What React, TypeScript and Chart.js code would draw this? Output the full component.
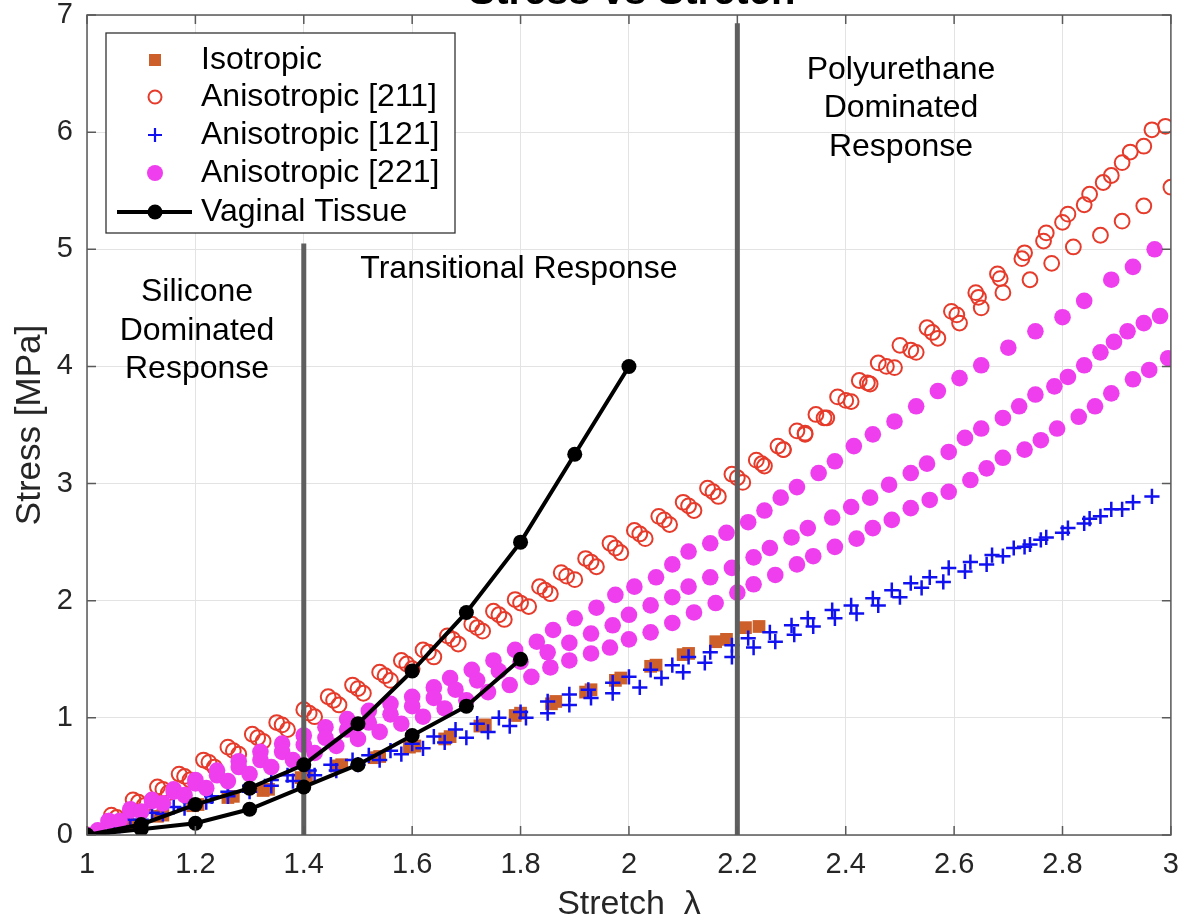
import React, { useEffect, useRef } from 'react';
import { Chart, registerables } from 'chart.js';

Chart.register(...registerables);

const FONT = '"Liberation Sans", Arial, Helvetica, sans-serif';

// ---------- data ----------
const X_TICK_STEP = 0.2;
const Y_TICK_STEP = 1;
const X_RANGE = [1, 3];
const Y_RANGE = [0, 7];

const isotropicRunA = [[1.0,0.0],[1.065,0.08],[1.13,0.16],[1.195,0.25],[1.26,0.32],[1.325,0.38],[1.395,0.49],[1.46,0.59],[1.53,0.66],[1.595,0.75],[1.66,0.82],[1.725,0.93],[1.79,1.02],[1.857,1.12],[1.92,1.22],[1.975,1.32],[2.04,1.44],[2.10,1.54],[2.16,1.65],[2.215,1.77]];
const isotropicRunB = [[1.075,0.09],[1.14,0.17],[1.205,0.26],[1.27,0.33],[1.335,0.39],[1.405,0.50],[1.47,0.60],[1.54,0.67],[1.605,0.76],[1.67,0.84],[1.735,0.94],[1.80,1.04],[1.865,1.14],[1.93,1.24],[1.985,1.34],[2.05,1.45],[2.11,1.55],[2.18,1.67],[2.24,1.78]];

const aniso211RunA = [[1.0,0.0],[1.045,0.17],[1.085,0.30],[1.13,0.41],[1.17,0.52],[1.215,0.64],[1.26,0.75],[1.305,0.86],[1.35,0.96],[1.40,1.07],[1.445,1.18],[1.49,1.28],[1.54,1.39],[1.58,1.49],[1.62,1.58],[1.665,1.70],[1.71,1.80],[1.75,1.91],[1.79,2.01],[1.835,2.12],[1.875,2.24],[1.92,2.36],[1.965,2.49],[2.01,2.60],[2.055,2.72],[2.10,2.84],[2.145,2.96],[2.19,3.08],[2.235,3.20],[2.275,3.32],[2.31,3.45],[2.345,3.59],[2.385,3.74],[2.425,3.88],[2.46,4.03],[2.50,4.18],[2.55,4.33],[2.595,4.47],[2.64,4.63],[2.68,4.79],[2.73,4.97],[2.77,5.14],[2.81,5.30],[2.85,5.47],[2.89,5.63],[2.925,5.83],[2.965,6.02]];
const aniso211RunB = [[1.055,0.15],[1.095,0.28],[1.14,0.39],[1.18,0.50],[1.225,0.62],[1.27,0.72],[1.315,0.83],[1.36,0.94],[1.41,1.04],[1.455,1.15],[1.50,1.25],[1.55,1.36],[1.59,1.46],[1.63,1.56],[1.675,1.67],[1.72,1.77],[1.76,1.88],[1.80,1.98],[1.845,2.09],[1.885,2.21],[1.93,2.33],[1.975,2.45],[2.02,2.57],[2.065,2.69],[2.11,2.81],[2.155,2.93],[2.20,3.05],[2.245,3.17],[2.285,3.29],[2.325,3.43],[2.36,3.56],[2.40,3.71],[2.44,3.86],[2.475,4.00],[2.52,4.14],[2.56,4.29],[2.605,4.44],[2.645,4.59],[2.685,4.75],[2.725,4.92],[2.765,5.07],[2.80,5.23],[2.84,5.38],[2.875,5.57],[2.91,5.74],[2.95,5.88],[2.99,6.05]];
const aniso211RunC = [[1.065,0.12],[1.105,0.25],[1.15,0.36],[1.19,0.47],[1.235,0.58],[1.28,0.69],[1.325,0.80],[1.37,0.90],[1.42,1.01],[1.465,1.11],[1.51,1.21],[1.56,1.32],[1.60,1.42],[1.64,1.52],[1.685,1.63],[1.73,1.74],[1.77,1.84],[1.815,1.95],[1.855,2.06],[1.90,2.18],[1.94,2.29],[1.985,2.41],[2.03,2.53],[2.075,2.65],[2.12,2.77],[2.165,2.89],[2.21,3.01],[2.25,3.15],[2.285,3.29],[2.325,3.42],[2.365,3.56],[2.41,3.70],[2.445,3.85],[2.49,3.99],[2.53,4.12],[2.57,4.24],[2.61,4.37],[2.65,4.50],[2.69,4.63],[2.74,4.74],[2.78,4.88],[2.82,5.02],[2.87,5.12],[2.91,5.24],[2.95,5.37],[3.0,5.53]];

const aniso121RunA = [[1.0,0.0],[1.04,0.07],[1.08,0.13],[1.12,0.19],[1.16,0.24],[1.19,0.28],[1.23,0.33],[1.26,0.37],[1.30,0.42],[1.34,0.47],[1.37,0.51],[1.41,0.55],[1.45,0.60],[1.49,0.64],[1.52,0.68],[1.56,0.72],[1.60,0.78],[1.64,0.84],[1.68,0.90],[1.72,0.95],[1.76,1.00],[1.80,1.05],[1.85,1.14],[1.89,1.20],[1.925,1.24],[1.97,1.30],[2.00,1.35],[2.04,1.41],[2.08,1.45],[2.11,1.52],[2.15,1.56],[2.19,1.62],[2.22,1.68],[2.26,1.73],[2.30,1.79],[2.33,1.85],[2.375,1.92],[2.41,1.96],[2.45,2.02],[2.485,2.09],[2.52,2.15],[2.555,2.20],[2.59,2.28],[2.63,2.33],[2.67,2.39],[2.71,2.45],[2.74,2.48],[2.77,2.54],[2.81,2.62],[2.85,2.70],[2.89,2.78],[2.93,2.84],[2.965,2.89]];
const aniso121RunB = [[1.06,0.08],[1.10,0.13],[1.14,0.18],[1.18,0.23],[1.22,0.28],[1.26,0.33],[1.30,0.37],[1.34,0.42],[1.38,0.46],[1.42,0.51],[1.46,0.55],[1.50,0.60],[1.54,0.64],[1.58,0.69],[1.62,0.74],[1.66,0.79],[1.70,0.83],[1.74,0.88],[1.78,0.93],[1.81,1.00],[1.85,1.04],[1.89,1.11],[1.93,1.17],[1.97,1.21],[2.02,1.26],[2.06,1.34],[2.10,1.39],[2.14,1.47],[2.19,1.52],[2.23,1.60],[2.27,1.65],[2.305,1.71],[2.34,1.78],[2.38,1.85],[2.42,1.89],[2.46,1.96],[2.50,2.03],[2.54,2.11],[2.58,2.16],[2.62,2.25],[2.66,2.31],[2.69,2.38],[2.73,2.46],[2.76,2.52],[2.80,2.58],[2.84,2.66],[2.87,2.72],[2.91,2.78]];

const aniso221RunA = [[1.0,0.0],[1.04,0.12],[1.08,0.22],[1.12,0.30],[1.16,0.39],[1.20,0.47],[1.24,0.55],[1.28,0.63],[1.32,0.71],[1.36,0.78],[1.40,0.85],[1.44,0.92],[1.48,0.99],[1.52,1.06],[1.56,1.12],[1.60,1.18],[1.64,1.26],[1.67,1.34],[1.71,1.41],[1.75,1.49],[1.79,1.58],[1.83,1.65],[1.86,1.75],[1.90,1.85],[1.94,1.94],[1.975,2.05],[2.01,2.12],[2.05,2.20],[2.08,2.31],[2.11,2.42],[2.15,2.49],[2.18,2.58],[2.22,2.67],[2.25,2.77],[2.28,2.88],[2.31,2.97],[2.35,3.09],[2.38,3.19],[2.415,3.32],[2.45,3.42],[2.49,3.53],[2.53,3.66],[2.57,3.79],[2.61,3.90],[2.65,4.01],[2.70,4.16],[2.75,4.30],[2.80,4.42],[2.84,4.56],[2.89,4.74],[2.93,4.85],[2.97,5.0]];
const aniso221RunB = [[1.04,0.12],[1.08,0.21],[1.12,0.29],[1.16,0.37],[1.20,0.44],[1.24,0.51],[1.28,0.58],[1.32,0.64],[1.36,0.71],[1.40,0.77],[1.44,0.83],[1.48,0.90],[1.52,0.96],[1.56,1.03],[1.60,1.10],[1.64,1.17],[1.68,1.24],[1.72,1.32],[1.76,1.40],[1.80,1.48],[1.85,1.56],[1.89,1.64],[1.93,1.72],[1.97,1.79],[2.00,1.88],[2.04,1.96],[2.08,2.03],[2.11,2.12],[2.15,2.20],[2.19,2.28],[2.23,2.37],[2.26,2.45],[2.30,2.54],[2.33,2.62],[2.375,2.71],[2.41,2.80],[2.445,2.88],[2.48,2.99],[2.52,3.09],[2.55,3.17],[2.59,3.27],[2.62,3.39],[2.65,3.47],[2.69,3.56],[2.72,3.66],[2.75,3.76],[2.785,3.83],[2.81,3.91],[2.84,4.01],[2.87,4.12],[2.895,4.21],[2.92,4.30],[2.95,4.37],[2.98,4.43]];
const aniso221RunC = [[1.02,0.04],[1.06,0.12],[1.10,0.20],[1.14,0.27],[1.18,0.34],[1.22,0.40],[1.26,0.46],[1.30,0.52],[1.34,0.58],[1.38,0.64],[1.42,0.70],[1.46,0.76],[1.50,0.82],[1.54,0.88],[1.58,0.95],[1.62,1.01],[1.66,1.08],[1.70,1.15],[1.74,1.22],[1.78,1.28],[1.82,1.35],[1.855,1.43],[1.89,1.49],[1.93,1.55],[1.965,1.60],[2.00,1.67],[2.04,1.73],[2.08,1.81],[2.12,1.90],[2.16,1.98],[2.20,2.07],[2.23,2.14],[2.27,2.22],[2.31,2.31],[2.34,2.38],[2.38,2.46],[2.42,2.53],[2.45,2.62],[2.485,2.69],[2.52,2.79],[2.555,2.86],[2.59,2.93],[2.63,3.03],[2.66,3.13],[2.69,3.22],[2.73,3.29],[2.76,3.37],[2.79,3.47],[2.83,3.57],[2.86,3.66],[2.89,3.77],[2.93,3.89],[2.96,3.97],[2.995,4.07]];

const vaginalStretchA = [1.0, 1.1, 1.2, 1.3, 1.4, 1.5, 1.6, 1.7, 1.8, 1.9, 2.0];
const vaginalStressA = [0.0, 0.09, 0.26, 0.40, 0.60, 0.95, 1.40, 1.90, 2.50, 3.25, 4.00];
const vaginalStretchB = [1.0, 1.1, 1.2, 1.3, 1.4, 1.5, 1.6, 1.7, 1.8];
const vaginalStressB = [0.0, 0.05, 0.10, 0.22, 0.41, 0.60, 0.85, 1.10, 1.50];

const regionBoundaryX = [1.4, 2.2];
const regionBoundaryTop = [5.05, 6.93];

const annotationLines = [['Silicone', 'Dominated', 'Response'], ['Transitional Response'], ['Polyurethane', 'Dominated', 'Response']];
const annotationX = [1.203, 1.797, 2.502];
const annotationY = [4.63, 4.83, 6.53];

const legendLabels = ['Isotropic', 'Anisotropic [211]', 'Anisotropic [121]', 'Anisotropic [221]', 'Vaginal Tissue'];

// ---------- styles ----------
const C_ISO = '#CD5F2B';
const C_211 = '#E63A2A';
const C_121 = '#1010F0';
const C_221 = '#EE3EEE';
const C_VAG = '#000000';
const C_BOUND = '#5F5F5F';
const C_GRID = '#E3E3E3';
const C_AXIS = '#5A5A5A';
const C_TEXT = '#262626';

const pts = (...runs: number[][][]) => runs.flat().map(([x, y]) => ({ x, y }));
const zipPts = (xs: number[], ys: number[]) => xs.map((x, i) => ({ x, y: ys[i] }));

const fmt = (v: number) => String(Number(v.toFixed(1)));

const decorPlugin = {
  id: 'decor',
  afterDatasetsDraw(chart: any) {
    const { ctx, chartArea: a, scales } = chart;
    const xs = scales.x;
    const ys = scales.y;
    ctx.save();
    // axes box
    ctx.strokeStyle = C_AXIS;
    ctx.lineWidth = 1.5;
    ctx.strokeRect(a.left, a.top, a.right - a.left, a.bottom - a.top);
    // inward ticks
    const TL = 9;
    ctx.beginPath();
    xs.ticks.forEach((t: any) => {
      const px = xs.getPixelForValue(t.value);
      ctx.moveTo(px, a.bottom); ctx.lineTo(px, a.bottom - TL);
      ctx.moveTo(px, a.top); ctx.lineTo(px, a.top + TL);
    });
    ys.ticks.forEach((t: any) => {
      const py = ys.getPixelForValue(t.value);
      ctx.moveTo(a.left, py); ctx.lineTo(a.left + TL, py);
      ctx.moveTo(a.right, py); ctx.lineTo(a.right - TL, py);
    });
    ctx.stroke();

    // annotations
    ctx.fillStyle = '#000';
    ctx.font = `32px ${FONT}`;
    ctx.textAlign = 'center';
    ctx.textBaseline = 'middle';
    annotationLines.forEach((lines, i) => {
      const px = xs.getPixelForValue(annotationX[i]);
      const py0 = ys.getPixelForValue(annotationY[i]);
      lines.forEach((ln, j) => ctx.fillText(ln, px, py0 + j * 38.5));
    });

    // title (mostly cut off at top, as in the reference)
    ctx.fillStyle = '#000';
    ctx.font = `bold 40px ${FONT}`;
    ctx.textBaseline = 'alphabetic';
    ctx.fillText('Stress vs Stretch', (a.left + a.right) / 2 + 3, 4);

    // legend
    const bx = 106, by = 33, bw = 349, bh = 200;
    ctx.fillStyle = '#fff';
    ctx.fillRect(bx, by, bw, bh);
    ctx.strokeStyle = '#333';
    ctx.lineWidth = 1.3;
    ctx.strokeRect(bx, by, bw, bh);
    const rowY = [60, 97, 135, 173, 212];
    const mx = 155;
    legendLabels.forEach((label, i) => {
      const ds = chart.data.datasets.find((d: any) => d.label === label);
      const y = rowY[i];
      ctx.save();
      if (label === 'Isotropic') {
        ctx.fillStyle = ds.backgroundColor;
        ctx.fillRect(mx - 6, y - 6, 12, 12);
      } else if (label === 'Anisotropic [211]') {
        ctx.strokeStyle = ds.borderColor; ctx.lineWidth = ds.borderWidth;
        ctx.beginPath(); ctx.arc(mx, y, 6.5, 0, Math.PI * 2); ctx.stroke();
      } else if (label === 'Anisotropic [121]') {
        ctx.strokeStyle = ds.borderColor; ctx.lineWidth = 2.2;
        const r = 7;
        ctx.beginPath(); ctx.moveTo(mx - r, y); ctx.lineTo(mx + r, y); ctx.moveTo(mx, y - r); ctx.lineTo(mx, y + r); ctx.stroke();
      } else if (label === 'Anisotropic [221]') {
        ctx.fillStyle = ds.backgroundColor;
        ctx.beginPath(); ctx.arc(mx, y, 8, 0, Math.PI * 2); ctx.fill();
      } else {
        ctx.strokeStyle = ds.borderColor; ctx.lineWidth = ds.borderWidth;
        ctx.beginPath(); ctx.moveTo(117, y); ctx.lineTo(192, y); ctx.stroke();
        ctx.fillStyle = ds.pointBackgroundColor;
        ctx.beginPath(); ctx.arc(mx, y, ds.pointRadius, 0, Math.PI * 2); ctx.fill();
      }
      ctx.restore();
      ctx.fillStyle = '#000';
      ctx.font = `32px ${FONT}`;
      ctx.textAlign = 'left';
      ctx.textBaseline = 'middle';
      ctx.fillText(label, 201, y);
    });
    ctx.restore();
  },
};

export default function App() {
  const ref = useRef<HTMLCanvasElement>(null);
  useEffect(() => {
    if (!ref.current) return;
    const chart = new Chart(ref.current, {
      type: 'scatter',
      data: {
        datasets: [
          {
            label: 'Isotropic', data: pts(isotropicRunA, isotropicRunB), pointStyle: 'rect',
            pointRadius: 9, backgroundColor: C_ISO, borderColor: C_ISO, borderWidth: 0, order: 10,
          },
          {
            label: 'Anisotropic [211]', data: pts(aniso211RunA, aniso211RunB, aniso211RunC), pointStyle: 'circle',
            pointRadius: 7.4, backgroundColor: 'rgba(0,0,0,0)', borderColor: C_211, borderWidth: 2, order: 9,
          },
          {
            label: 'Anisotropic [121]', data: pts(aniso121RunA, aniso121RunB), pointStyle: 'cross',
            pointRadius: 7.6, borderColor: C_121, backgroundColor: C_121, borderWidth: 2.5, order: 8,
          },
          {
            label: 'Anisotropic [221]', data: pts(aniso221RunA, aniso221RunB, aniso221RunC), pointStyle: 'circle',
            pointRadius: 8.3, backgroundColor: C_221, borderColor: C_221, borderWidth: 0, order: 7,
          },
          {
            label: 'boundary-1', data: [{ x: regionBoundaryX[0], y: 0 }, { x: regionBoundaryX[0], y: regionBoundaryTop[0] }],
            showLine: true, borderColor: C_BOUND, borderWidth: 5, pointRadius: 0, order: 5,
          },
          {
            label: 'boundary-2', data: [{ x: regionBoundaryX[1], y: 0 }, { x: regionBoundaryX[1], y: regionBoundaryTop[1] }],
            showLine: true, borderColor: C_BOUND, borderWidth: 5, pointRadius: 0, order: 5,
          },
          {
            label: 'Vaginal Tissue', data: zipPts(vaginalStretchA, vaginalStressA), showLine: true,
            borderColor: C_VAG, borderWidth: 4, pointRadius: 7.5, pointBackgroundColor: C_VAG, pointBorderColor: C_VAG,
            pointBorderWidth: 0, pointStyle: 'circle', order: 1,
          },
          {
            label: 'Vaginal Tissue (2)', data: zipPts(vaginalStretchB, vaginalStressB), showLine: true,
            borderColor: C_VAG, borderWidth: 4, pointRadius: 7.5, pointBackgroundColor: C_VAG, pointBorderColor: C_VAG,
            pointBorderWidth: 0, pointStyle: 'circle', order: 1,
          },
        ] as any,
      },
      options: {
        responsive: false,
        animation: false,
        events: [],
        layout: { padding: { top: 15, right: 6, left: 0, bottom: 0 } },
        plugins: { legend: { display: false }, tooltip: { enabled: false }, title: { display: false } },
        scales: {
          x: {
            type: 'linear', min: X_RANGE[0], max: X_RANGE[1],
            ticks: {
              stepSize: X_TICK_STEP, padding: 13, color: C_TEXT, maxRotation: 0, autoSkip: false,
              font: { size: 29, family: FONT }, callback: (v: any) => fmt(Number(v)),
            },
            grid: { color: C_GRID, lineWidth: 1, drawTicks: false },
            border: { display: false },
            title: { display: true, text: 'Stretch  λ', color: C_TEXT, font: { size: 34, family: FONT, lineHeight: 0.9 }, padding: 0 },
            afterFit: (s: any) => { s.height = 85; s.paddingLeft = 0; s.paddingRight = 0; },
          },
          y: {
            type: 'linear', min: Y_RANGE[0], max: Y_RANGE[1],
            ticks: {
              stepSize: Y_TICK_STEP, padding: 14, color: C_TEXT,
              font: { size: 29, family: FONT }, callback: (v: any) => fmt(Number(v)),
            },
            grid: { color: C_GRID, lineWidth: 1, drawTicks: false },
            border: { display: false },
            title: { display: true, text: 'Stress [MPa]', color: C_TEXT, font: { size: 35, family: FONT }, padding: { top: 9, bottom: 0 } },
            afterFit: (s: any) => { s.width = 87; s.paddingTop = 0; s.paddingBottom = 0; },
          },
        },
      } as any,
      plugins: [decorPlugin],
    });
    return () => chart.destroy();
  }, []);

  return (
    <div style={{ position: 'fixed', left: 0, top: 0, width: 1181, height: 920, background: '#fff', overflow: 'hidden' }}>
      <canvas ref={ref} width={1181} height={920} style={{ display: 'block', width: 1181, height: 920 }} />
    </div>
  );
}
